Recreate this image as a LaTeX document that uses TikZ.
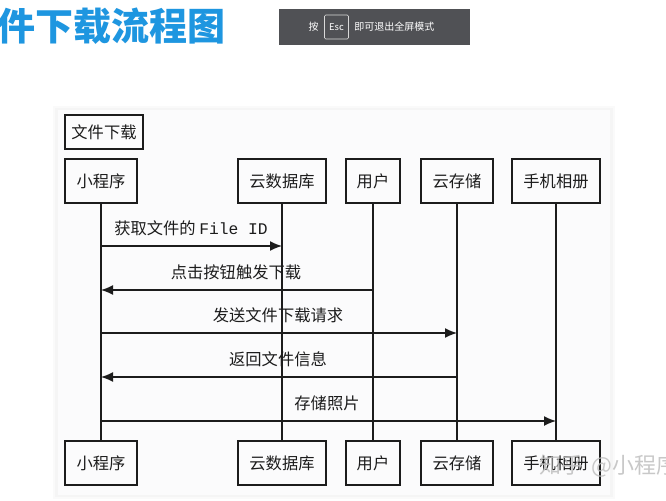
\documentclass[tikz,border=0pt]{standalone}
\usepackage{fontspec}
\setmainfont{Noto Sans CJK SC}
\newfontfamily\monof{Liberation Mono}
\usetikzlibrary{arrows.meta,shadows}
\definecolor{ttl}{HTML}{1E96E0}
\definecolor{panel}{HTML}{FBFBFC}
\definecolor{barc}{HTML}{505155}
\definecolor{inkc}{HTML}{1C1C1C}
\tikzset{x=0.75pt,y=-0.75pt,
 actor/.style={draw=inkc,line width=1.5pt,fill=panel,minimum height=33pt,inner sep=0pt,font=\fontsize{12.2pt}{14pt}\selectfont,text=inkc},
 lifeline/.style={draw=inkc,line width=1.1pt},
 msg/.style={draw=inkc,line width=1.1pt,-{Latex[length=9pt,width=7.5pt]}},
 msglabel/.style={font=\fontsize{12.2pt}{14pt}\selectfont,text=inkc,inner sep=0pt,fill=none},
 wm/.style={font=\fontsize{16.5pt}{18pt}\selectfont,text=black!25,inner sep=0pt,opacity=.85}}
\begin{document}
\begin{tikzpicture}
\useasboundingbox (0,0) rectangle (666,500);
\fill[white] (0,0) rectangle (666,500);
\fill[black!2] (53,106) rectangle (615,499);
\fill[black!4] (55,108) rectangle (613,497);
\fill[panel] (58,110) rectangle (610,495);
% title
\node[anchor=west,inner sep=0pt,font=\bfseries\fontsize{28.5pt}{30pt}\selectfont,text=ttl] (title) at (-3,26) {件下载流程图};
% Esc bar
\node[fill=barc,minimum width=143pt,minimum height=27pt,inner sep=0pt] (bar) at (374.5,27) {};
\node[inner sep=0pt,text=white,font=\fontsize{7.5pt}{9pt}\selectfont] (an) at (313.5,27) {按};
\node[draw=white!85!black,rounded corners=1pt,text=white,font=\fontsize{7pt}{9pt}\selectfont,minimum width=18pt,minimum height=18pt,inner sep=0pt] (esc) at (336.5,27) {Esc};
\node[anchor=west,inner sep=0pt,text=white,font=\fontsize{7.5pt}{9pt}\selectfont] (tip) at (354,27) {即可退出全屏模式};
% frame label
\node[actor,minimum width=58pt,minimum height=25pt] (frame) at (104,132) {文件下载};
% top actors
\node[actor,minimum width=54pt] (a1) at (101,181) {小程序};
\node[actor,minimum width=66pt] (a2) at (282,181) {云数据库};
\node[actor,minimum width=41pt] (a3) at (373,181) {用户};
\node[actor,minimum width=54pt] (a4) at (457,181) {云存储};
\node[actor,minimum width=66pt] (a5) at (556,181) {手机相册};
% bottom actors
\node[actor,minimum width=54pt] (b1) at (101,463) {小程序};
\node[actor,minimum width=66pt] (b2) at (282,463) {云数据库};
\node[actor,minimum width=41pt] (b3) at (373,463) {用户};
\node[actor,minimum width=54pt] (b4) at (457,463) {云存储};
\node[actor,minimum width=66pt] (b5) at (556,463) {手机相册};
% lifelines
\foreach \i in {1,...,5} \draw[lifeline] (a\i) -- (b\i);
% messages
\coordinate (m1s) at (a1 |- 0,246); \coordinate (m1e) at (a2 |- 0,246);
\coordinate (m2s) at (a3 |- 0,290); \coordinate (m2e) at (a1 |- 0,290);
\coordinate (m3s) at (a1 |- 0,333); \coordinate (m3e) at (a4 |- 0,333);
\coordinate (m4s) at (a4 |- 0,377); \coordinate (m4e) at (a1 |- 0,377);
\coordinate (m5s) at (a1 |- 0,421); \coordinate (m5e) at (a5 |- 0,421);
\foreach \i in {1,...,5} \draw[msg] (m\i s) -- (m\i e);
\node[msglabel] (l1) at (191,228) {获取文件的 {\monof File ID}};
\node[msglabel] (l2) at (236,272) {点击按钮触发下载};
\node[msglabel] (l3) at (278,315) {发送文件下载请求};
\node[msglabel] (l4) at (278,359) {返回文件信息};
\node[msglabel] (l5) at (327,403) {存储照片};
% watermark
\node[wm,anchor=west] (wm) at (539,466) {知乎\hspace{6pt}@小程序};
\end{tikzpicture}
\end{document}
